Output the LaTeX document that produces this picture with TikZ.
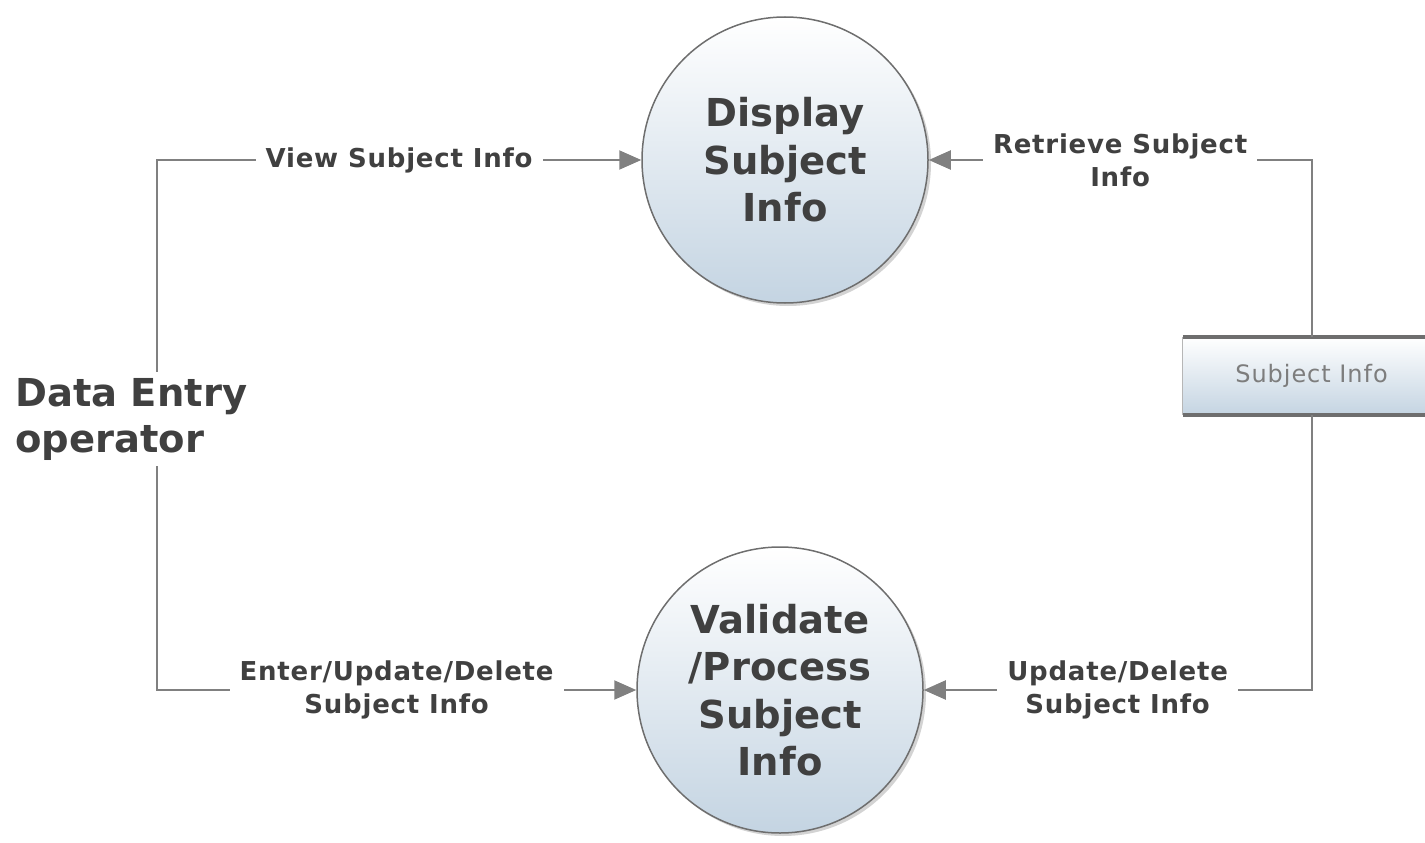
\documentclass[tikz,border=0pt]{standalone}
\usepackage{fontspec}
\setmainfont{DejaVu Sans}
\newfontfamily\flowfont[LetterSpace=3]{DejaVu Sans}
\newfontfamily\storefont[LetterSpace=4]{DejaVu Sans}
\usetikzlibrary{arrows.meta,shadows}
\definecolor{ink}{RGB}{64,64,64}
\definecolor{wire}{RGB}{128,128,128}
\definecolor{rim}{RGB}{110,110,110}
\definecolor{shadebot}{RGB}{196,212,226}
\definecolor{storetxt}{RGB}{125,125,125}
\tikzset{
  process/.style={circle, minimum size=286pt, inner sep=0pt, draw=rim, line width=1.5pt,
    top color=white, bottom color=shadebot, align=center, text=ink,
    font=\fontsize{38.5}{47.5}\selectfont\bfseries,
    drop shadow={opacity=0.35, shadow xshift=3pt, shadow yshift=-3pt}},
  actor/.style={align=left, text=ink, font=\fontsize{38.5}{46}\selectfont\bfseries, inner sep=6pt},
  datastore/.style={rectangle, minimum width=257pt, minimum height=78pt, inner sep=0pt,
    top color=white, bottom color=shadebot, text=storetxt, font=\storefont\fontsize{24}{28}\selectfont},
  storeline/.style={draw=rim, line width=3.5pt},
  flow/.style={draw=wire, line width=2pt, -{Triangle[length=22pt,width=19pt]}},
  lbl/.style={fill=white, text=ink, align=center, inner xsep=10pt, inner ysep=2pt,
    font=\flowfont\fontsize{26}{33}\selectfont\bfseries},
}
\begin{document}
\begin{tikzpicture}[x=1pt,y=-1pt]
  \useasboundingbox (0,0) rectangle (1425,843);

  % processes
  \node[process] (disp) at (785,160) {Display\\Subject\\Info};
  \node[process] (val) at (780,690) {Validate\\/Process\\Subject\\Info};

  % external entity
  \node[actor, anchor=west] (op) at (9,419) {Data Entry\\operator};
  \coordinate (opline) at (157,0);

  % data store
  \node[datastore] (store) at (1311.5,376) {\raisebox{-3pt}{Subject Info}};
  \draw[draw=rim!50, line width=1pt] (store.north west) -- (store.south west);
  \draw[storeline] (store.north west) -- (store.north east);
  \draw[storeline] (store.south west) -- (store.south east);

  % data flows
  \draw[flow] (op.north -| opline) |- node[lbl, pos=0.75] {View Subject Info} (disp.west);
  \draw[flow] (op.south -| opline) |- node[lbl, pos=0.75] {Enter/Update/Delete\\Subject Info} (val.west);
  \draw[flow] (store.north) |- node[lbl, pos=0.75] {Retrieve Subject\\Info} (disp.east);
  \draw[flow] (store.south) |- node[lbl, pos=0.75] {Update/Delete\\Subject Info} (val.east);
\end{tikzpicture}
\end{document}
